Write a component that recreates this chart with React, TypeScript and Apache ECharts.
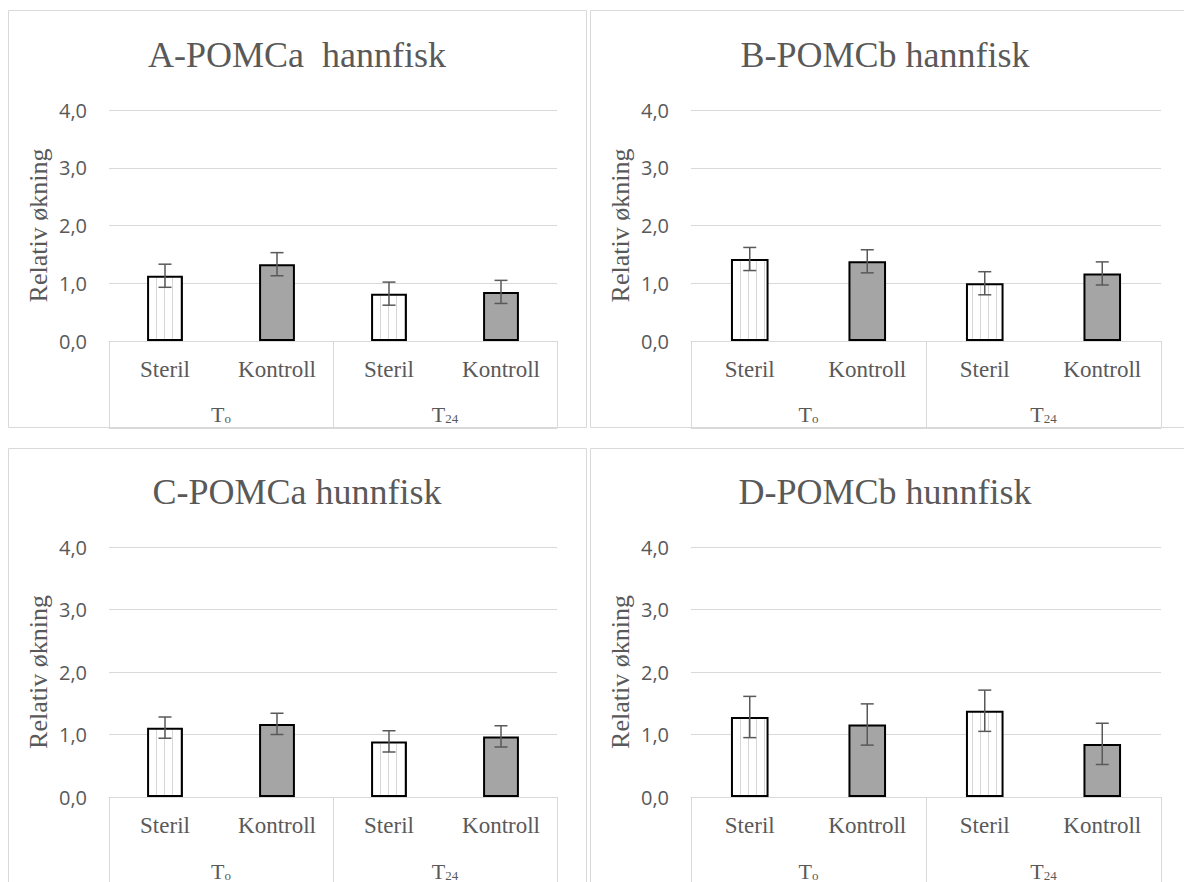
import React, { useEffect, useRef } from "react";
import * as echarts from "echarts";

const categories = ["Steril", "Kontroll", "Steril", "Kontroll"];
const groups = ["T0", "T24"];
const titles = ["A-POMCa  hannfisk", "B-POMCb hannfisk", "C-POMCa hunnfisk", "D-POMCb hunnfisk"];
const yAxisName = "Relativ økning";
const yMin = 0;
const yMax = 4;
const yStep = 1;

const valuesA = [1.13, 1.33, 0.82, 0.85];
const errorsA = [0.2, 0.2, 0.2, 0.2];
const valuesB = [1.42, 1.38, 1.0, 1.17];
const errorsB = [0.2, 0.2, 0.2, 0.2];
const valuesC = [1.11, 1.17, 0.89, 0.97];
const errorsC = [0.17, 0.17, 0.17, 0.17];
const valuesD = [1.28, 1.16, 1.38, 0.85];
const errorsD = [0.33, 0.33, 0.33, 0.33];

const panelValues = [valuesA, valuesB, valuesC, valuesD];
const panelErrors = [errorsA, errorsB, errorsC, errorsD];

// layout (pixels)
const layouts = [
  { box: [8.5, 10.5, 578, 417], grid: { left: 109, top: 110, width: 448, height: 231 }, groupOffset: 87, titleX: 297, titleY: 55 },
  { box: [590.5, 10.5, 620, 417], grid: { left: 691, top: 110, width: 470, height: 231 }, groupOffset: 87, titleX: 885, titleY: 55 },
  { box: [8.5, 448.5, 578, 500], grid: { left: 109, top: 547, width: 448, height: 250 }, groupOffset: 88, titleX: 297, titleY: 492 },
  { box: [590.5, 448.5, 620, 500], grid: { left: 691, top: 547, width: 470, height: 250 }, groupOffset: 88, titleX: 885, titleY: 492 },
];

const TEXT = "#595959";
const LINE = "#d9d9d9";
const SERIF = "'Liberation Serif', 'Times New Roman', serif";
const SANS = "'Open Sans', 'Noto Sans', sans-serif";

export default function App() {
  const ref = useRef<HTMLDivElement>(null);
  useEffect(() => {
    if (!ref.current) return;
    const chart = echarts.init(ref.current, null, { renderer: "svg" });

    const cvs = document.createElement("canvas");
    cvs.width = 8;
    cvs.height = 8;
    const ctx = cvs.getContext("2d")!;
    ctx.fillStyle = "#ffffff";
    ctx.fillRect(0, 0, 8, 8);
    ctx.fillStyle = "#d6d6d6";
    ctx.fillRect(4, 0, 1, 8);

    const grids: any[] = [];
    const xAxes: any[] = [];
    const yAxes: any[] = [];
    const series: any[] = [];
    const graphics: any[] = [];

    layouts.forEach((L, p) => {
      grids.push({ ...L.grid, containLabel: false });
      graphics.push({
        type: "rect",
        shape: { x: L.box[0], y: L.box[1], width: L.box[2], height: L.box[3] },
        style: { fill: "none", stroke: LINE, lineWidth: 1 },
        silent: true,
        z: 0,
      });
      graphics.push({
        type: "text",
        x: L.titleX,
        y: L.titleY,
        style: {
          text: titles[p],
          fill: TEXT,
          font: `36px ${SERIF}`,
          textAlign: "center",
          textVerticalAlign: "middle",
        },
        silent: true,
      });
      xAxes.push({
        type: "category",
        gridIndex: p,
        data: categories,
        position: "bottom",
        axisLine: { show: true, lineStyle: { color: LINE, width: 1 } },
        axisTick: { show: false },
        splitLine: { show: false },
        axisLabel: { interval: 0, margin: 17, color: TEXT, fontFamily: SERIF, fontSize: 23 },
      });
      xAxes.push({
        type: "category",
        gridIndex: p,
        data: groups,
        position: "bottom",
        offset: L.groupOffset,
        axisLine: { show: true, lineStyle: { color: LINE, width: 1 } },
        axisTick: { show: true, inside: true, length: L.groupOffset, lineStyle: { color: LINE, width: 1 } },
        splitLine: { show: false },
        axisLabel: {
          inside: true,
          margin: 3,
          interval: 0,
          formatter: (v: string) => (v === "T0" ? "{t|T}{s|o}" : "{t|T}{s|24}"),
          rich: {
            t: { fontFamily: SERIF, fontSize: 22, color: TEXT, lineHeight: 22, verticalAlign: "bottom" },
            s: { fontFamily: SERIF, fontSize: 13, color: TEXT, lineHeight: 12, verticalAlign: "bottom" },
          },
        },
      });
      yAxes.push({
        type: "value",
        gridIndex: p,
        min: yMin,
        max: yMax,
        interval: yStep,
        axisLine: { show: false },
        axisTick: { show: false },
        splitLine: { show: true, lineStyle: { color: LINE, width: 1 } },
        axisLabel: {
          margin: 22,
          color: TEXT,
          fontFamily: SANS,
          fontSize: 20,
          formatter: (v: number) => v.toFixed(1).replace(".", ","),
        },
        name: yAxisName,
        nameLocation: "middle",
        nameGap: 58,
        nameTextStyle: { color: TEXT, fontFamily: SERIF, fontSize: 26 },
      });
      const vals = panelValues[p];
      const errs = panelErrors[p];
      series.push({
        type: "bar",
        xAxisIndex: 2 * p,
        yAxisIndex: p,
        barWidth: "32%",
        data: vals.map((v, i) => ({
          value: v,
          itemStyle:
            i % 2 === 0
              ? { color: { image: cvs, repeat: "repeat" }, borderColor: "#000", borderWidth: 2 }
              : { color: "#a5a5a5", borderColor: "#000", borderWidth: 2 },
        })),
        z: 2,
      });
      series.push({
        type: "custom",
        xAxisIndex: 2 * p,
        yAxisIndex: p,
        z: 5,
        encode: { x: 0, y: [1, 2] },
        data: vals.map((v, i) => [i, v - errs[i], v + errs[i]]),
        renderItem: (params: any, api: any) => {
          const x = api.value(0);
          const lo = api.coord([x, api.value(1)]);
          const hi = api.coord([x, api.value(2)]);
          const hw = 6.5;
          const style = { stroke: "#595959", lineWidth: 1.5 };
          return {
            type: "group",
            children: [
              { type: "line", shape: { x1: hi[0], y1: hi[1], x2: lo[0], y2: lo[1] }, style },
              { type: "line", shape: { x1: hi[0] - hw, y1: hi[1], x2: hi[0] + hw, y2: hi[1] }, style },
              { type: "line", shape: { x1: lo[0] - hw, y1: lo[1], x2: lo[0] + hw, y2: lo[1] }, style },
            ],
          };
        },
      });
    });

    chart.setOption({
      animation: false,
      backgroundColor: "#ffffff",
      grid: grids,
      xAxis: xAxes,
      yAxis: yAxes,
      series,
      graphic: graphics,
    });
    return () => chart.dispose();
  }, []);
  return <div ref={ref} style={{ position: "fixed", left: 0, top: 0, width: 1184, height: 882 }} />;
}
